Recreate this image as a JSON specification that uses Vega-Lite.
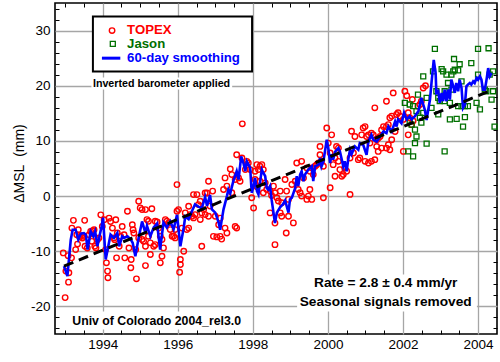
{
"$schema": "https://vega.github.io/schema/vega-lite/v6.json",
"width": 442, "height": 331,
"autosize": {"type": "none"},
"padding": {"left": 55, "top": 3, "right": 3, "bottom": 28},
"background": "white",
"config": {"view": {"stroke": "#000000", "strokeWidth": 1.6}, "font": "Liberation Sans"},
"datasets": {
"topex": [
{"t":1992.95,"v":-10.3},{"t":1993.08,"v":-10.8},{"t":1993.17,"v":-11.2},{"t":1993.02,"v":-13.6},{"t":1993.1,"v":-13.9},{"t":1993.09,"v":-15.6},{"t":1993.0,"v":-18.4},{"t":1993.18,"v":-5.8},{"t":1993.22,"v":-4.4},{"t":1993.31,"v":-7.0},{"t":1993.35,"v":-6.1},{"t":1993.28,"v":-9.7},{"t":1993.33,"v":-8.7},{"t":1993.39,"v":-7.4},{"t":1993.44,"v":-7.2},{"t":1993.46,"v":-7.6},{"t":1993.5,"v":-7.3},{"t":1993.52,"v":-4.4},{"t":1993.53,"v":-9.1},{"t":1993.59,"v":-9.4},{"t":1993.64,"v":-7.0},{"t":1993.68,"v":-6.4},{"t":1993.71,"v":-8.2},{"t":1993.73,"v":-6.3},{"t":1993.77,"v":-6.1},{"t":1993.79,"v":-9.1},{"t":1993.82,"v":-9.4},{"t":1993.86,"v":-7.9},{"t":1993.9,"v":-7.6},{"t":1993.95,"v":-3.4},{"t":1993.99,"v":-5.5},{"t":1994.04,"v":-4.3},{"t":1994.08,"v":-9.7},{"t":1994.1,"v":-12.1},{"t":1994.13,"v":-13.6},{"t":1994.14,"v":-14.8},{"t":1994.17,"v":-4.0},{"t":1994.21,"v":-4.6},{"t":1994.26,"v":-5.8},{"t":1994.3,"v":-7.6},{"t":1994.35,"v":-4.3},{"t":1994.32,"v":-7.9},{"t":1994.39,"v":-6.7},{"t":1994.37,"v":-11.2},{"t":1994.44,"v":-9.1},{"t":1994.48,"v":-7.3},{"t":1994.52,"v":-5.5},{"t":1994.57,"v":-7.0},{"t":1994.59,"v":-11.2},{"t":1994.66,"v":-2.75},{"t":1994.7,"v":-9.4},{"t":1994.75,"v":-13.0},{"t":1994.76,"v":-11.5},{"t":1994.79,"v":-5.2},{"t":1994.81,"v":-6.1},{"t":1994.83,"v":-6.7},{"t":1994.88,"v":-9.7},{"t":1994.9,"v":-15.0},
{"t":1994.96,"v":-0.94},{"t":1995.0,"v":-2.14},{"t":1995.05,"v":-2.45},{"t":1995.14,"v":-2.45},{"t":1995.18,"v":-4.26},{"t":1995.22,"v":-4.56},{"t":1995.31,"v":-2.3},{"t":1994.96,"v":-7.58},{"t":1995.05,"v":-7.88},{"t":1995.09,"v":-8.2},{"t":1995.14,"v":-9.09},{"t":1995.14,"v":-12.6},{"t":1995.22,"v":-7.28},{"t":1995.27,"v":-8.48},{"t":1995.27,"v":-10.6},{"t":1995.36,"v":-9.09},{"t":1995.4,"v":-8.8},{"t":1995.4,"v":-4.56},{"t":1995.45,"v":-4.7},{"t":1995.49,"v":-5.8},{"t":1995.535,"v":-7.28},{"t":1995.58,"v":-7.88},{"t":1995.58,"v":-10.9},{"t":1995.535,"v":-12.1},{"t":1995.62,"v":-9.39},{"t":1995.67,"v":-4.26},{"t":1995.71,"v":-4.56},{"t":1995.76,"v":-4.86},{"t":1995.8,"v":-6.07},{"t":1995.85,"v":-7.28},{"t":1995.89,"v":-7.28},{"t":1995.93,"v":-6.07},{"t":1995.98,"v":-2.75},{"t":1995.93,"v":-7.58},{"t":1995.98,"v":2.08},{"t":1996.02,"v":-2.45},{"t":1996.07,"v":-11.5},{"t":1996.07,"v":-12.4},{"t":1996.05,"v":-13.8},{"t":1996.16,"v":-10.0},{"t":1996.11,"v":-5.8},{"t":1996.2,"v":-3.05},{"t":1996.24,"v":-6.07},{"t":1996.29,"v":-5.8},{"t":1996.29,"v":-1.84},{"t":1996.33,"v":-3.35},{"t":1996.38,"v":-3.65},{"t":1996.42,"v":-3.96},{"t":1996.46,"v":-3.35},{"t":1996.42,"v":0.27},{"t":1996.51,"v":0.27},{"t":1996.55,"v":-1.54},{"t":1996.6,"v":-0.94},{"t":1996.6,"v":-4.26},{"t":1996.64,"v":-3.05},{"t":1996.64,"v":-9.09},{"t":1996.69,"v":-2.45},{"t":1996.73,"v":-3.35},{"t":1996.73,"v":0.57},{"t":1996.78,"v":0.57},{"t":1996.82,"v":-3.65},{"t":1996.82,"v":2.69},
{"t":1996.93,"v":0.9},{"t":1996.86,"v":-1.8},{"t":1997.0,"v":-3.65},{"t":1997.13,"v":-4.0},{"t":1997.09,"v":-5.2},{"t":1996.95,"v":-7.3},{"t":1997.04,"v":-7.4},{"t":1997.13,"v":-7.3},{"t":1997.17,"v":-7.8},{"t":1997.26,"v":-5.8},{"t":1997.31,"v":-6.7},{"t":1997.22,"v":1.2},{"t":1997.26,"v":3.3},{"t":1997.31,"v":1.8},{"t":1997.4,"v":4.9},{"t":1997.44,"v":3.9},{"t":1997.44,"v":0.6},{"t":1997.53,"v":3.0},{"t":1997.57,"v":7.5},{"t":1997.62,"v":3.3},{"t":1997.66,"v":2.7},{"t":1997.72,"v":13.1},{"t":1997.71,"v":6.9},{"t":1997.84,"v":6.3},{"t":1997.88,"v":6.0},{"t":1997.8,"v":4.8},{"t":1997.93,"v":4.8},{"t":1998.02,"v":2.4},{"t":1997.97,"v":-0.3},{"t":1998.06,"v":4.5},{"t":1998.11,"v":5.7},{"t":1998.15,"v":4.8},{"t":1998.19,"v":5.4},{"t":1998.24,"v":5.7},{"t":1998.28,"v":4.8},{"t":1998.06,"v":3.0},{"t":1998.11,"v":1.7},{"t":1998.19,"v":2.7},{"t":1998.28,"v":0.6},{"t":1998.33,"v":2.4},{"t":1998.37,"v":1.2},{"t":1998.46,"v":0.9},{"t":1998.5,"v":0.1},{"t":1998.55,"v":1.8},{"t":1998.59,"v":0.6},{"t":1998.64,"v":-0.3},{"t":1998.73,"v":0.9},{"t":1998.68,"v":-0.9},{"t":1998.73,"v":-3.05},{"t":1998.77,"v":-1.2},{"t":1998.77,"v":-3.65},{"t":1998.46,"v":-3.05},{"t":1998.59,"v":-4.9},{"t":1998.02,"v":-2.15},{"t":1997.57,"v":-5.8},{"t":1997.53,"v":-5.5},{"t":1998.59,"v":-8.8},
{"t":1998.86,"v":3.0},{"t":1998.9,"v":0.9},{"t":1998.95,"v":-0.6},{"t":1998.95,"v":-3.65},{"t":1999.08,"v":-4.86},{"t":1998.89,"v":-6.7},{"t":1999.04,"v":2.1},{"t":1999.13,"v":2.7},{"t":1999.17,"v":6.0},{"t":1999.3,"v":6.3},{"t":1999.21,"v":1.2},{"t":1999.26,"v":0.6},{"t":1999.3,"v":0.0},{"t":1999.35,"v":3.3},{"t":1999.44,"v":-0.6},{"t":1999.48,"v":0.0},{"t":1999.52,"v":1.2},{"t":1999.57,"v":-0.6},{"t":1999.44,"v":5.1},{"t":1999.52,"v":4.5},{"t":1999.57,"v":5.1},{"t":1999.61,"v":3.9},{"t":1999.66,"v":5.4},{"t":1999.7,"v":5.7},{"t":1999.75,"v":6.0},{"t":1999.79,"v":7.5},{"t":1999.83,"v":6.3},{"t":1999.88,"v":5.4},{"t":1999.79,"v":9.0},{"t":1999.88,"v":-0.3},{"t":1999.97,"v":12.35},{"t":2000.01,"v":9.6},{"t":2000.06,"v":7.8},{"t":2000.1,"v":11.1},{"t":2000.14,"v":5.7},{"t":2000.19,"v":6.9},{"t":2000.23,"v":9.0},{"t":2000.28,"v":8.7},{"t":2000.28,"v":6.3},{"t":2000.32,"v":4.8},{"t":2000.41,"v":3.9},{"t":2000.45,"v":5.1},{"t":2000.5,"v":4.5},{"t":2000.59,"v":6.9},{"t":2000.63,"v":11.75},{"t":2000.68,"v":7.8},{"t":2000.72,"v":10.8},{"t":2000.59,"v":0.3},{"t":2000.06,"v":1.5},{"t":2000.19,"v":3.6},{"t":2000.37,"v":3.6},{"t":2000.81,"v":6.6},
{"t":2000.9,"v":11.1},{"t":2000.94,"v":12.35},{"t":2000.99,"v":12.6},{"t":2001.03,"v":10.8},{"t":2001.08,"v":11.1},{"t":2001.12,"v":9.6},{"t":2001.16,"v":11.4},{"t":2001.21,"v":11.1},{"t":2001.25,"v":16.0},{"t":2001.3,"v":10.2},{"t":2001.34,"v":10.5},{"t":2001.39,"v":10.8},{"t":2001.43,"v":12.0},{"t":2001.48,"v":12.6},{"t":2001.56,"v":12.6},{"t":2001.61,"v":12.95},{"t":2001.56,"v":17.2},{"t":2001.65,"v":14.2},{"t":2001.7,"v":14.5},{"t":2001.74,"v":18.7},{"t":2001.83,"v":14.8},{"t":2001.87,"v":15.1},{"t":2001.79,"v":11.7},{"t":2001.7,"v":10.2},{"t":2001.56,"v":8.7},{"t":2001.43,"v":8.7},{"t":2001.34,"v":8.1},{"t":2001.25,"v":6.6},{"t":2001.16,"v":6.3},{"t":2001.08,"v":6.0},{"t":2000.99,"v":6.3},{"t":2000.85,"v":6.9},{"t":2001.3,"v":9.0},{"t":2001.65,"v":8.4},{"t":2001.61,"v":9.3},{"t":2001.92,"v":14.5},{"t":2002.01,"v":13.9},{"t":2002.05,"v":19.0},{"t":2002.14,"v":15.1},{"t":2002.18,"v":14.2},{"t":2002.23,"v":12.95},{"t":2002.27,"v":13.6},{"t":2002.4,"v":16.3},{"t":2002.45,"v":16.6},{"t":2002.49,"v":17.2},{"t":2002.54,"v":19.6},{"t":2002.01,"v":8.1},{"t":2002.14,"v":11.1},{"t":2002.1,"v":18.2},{"t":2002.25,"v":17.5},{"t":2002.6,"v":20.0}
],
"jason": [
{"t":2002.05,"v":16.9},{"t":2002.14,"v":8.1},{"t":2002.18,"v":16.6},{"t":2002.18,"v":13.6},{"t":2002.23,"v":12.95},{"t":2002.27,"v":16.3},{"t":2002.27,"v":7.2},{"t":2002.32,"v":12.05},{"t":2002.32,"v":9.6},{"t":2002.36,"v":15.4},{"t":2002.36,"v":10.8},{"t":2002.4,"v":18.4},{"t":2002.45,"v":14.2},{"t":2002.49,"v":13.3},{"t":2002.54,"v":21.7},{"t":2002.54,"v":15.1},{"t":2002.63,"v":17.8},{"t":2002.63,"v":9.5},{"t":2002.76,"v":16.0},{"t":2002.8,"v":22.6},{"t":2002.85,"v":26.7},{"t":2002.89,"v":19.0},{"t":2002.94,"v":17.8},{"t":2002.94,"v":14.8},{"t":2002.98,"v":17.2},{"t":2003.03,"v":23.0},{"t":2003.07,"v":22.6},{"t":2003.11,"v":19.0},{"t":2003.11,"v":17.2},{"t":2003.11,"v":8.1},{"t":2003.16,"v":22.0},{"t":2003.2,"v":20.5},{"t":2003.25,"v":16.9},{"t":2003.25,"v":13.9},{"t":2003.29,"v":22.0},{"t":2003.29,"v":19.3},{"t":2003.34,"v":22.6},{"t":2003.36,"v":24.85},{"t":2003.38,"v":22.9},{"t":2003.43,"v":14.0},{"t":2003.47,"v":22.8},{"t":2003.47,"v":16.3},{"t":2003.51,"v":23.9},{"t":2003.56,"v":20.8},{"t":2003.56,"v":16.3},{"t":2003.6,"v":12.6},{"t":2003.65,"v":16.3},{"t":2003.65,"v":14.3},{"t":2003.73,"v":16.3},{"t":2003.82,"v":24.1},{"t":2003.96,"v":16.9},{"t":2004.0,"v":26.7},{"t":2004.0,"v":22.0},{"t":2004.05,"v":15.7},{"t":2004.18,"v":19.3},{"t":2004.22,"v":19.0},{"t":2004.28,"v":26.8},{"t":2004.31,"v":22.0},{"t":2004.36,"v":17.5},{"t":2004.4,"v":22.6},{"t":2004.4,"v":19.0},{"t":2004.44,"v":12.6}
],
"smooth": [
{"t":1992.97,"v":-12.7},{"t":1993.06,"v":-14.5},{"t":1993.15,"v":-7.9},{"t":1993.2,"v":-6.1},{"t":1993.28,"v":-6.1},{"t":1993.35,"v":-7.9},{"t":1993.42,"v":-6.8},{"t":1993.5,"v":-6.7},{"t":1993.55,"v":-7.0},{"t":1993.6,"v":-9.7},{"t":1993.68,"v":-6.4},{"t":1993.75,"v":-7.3},{"t":1993.8,"v":-6.4},{"t":1993.86,"v":-9.1},{"t":1993.97,"v":-5.5},{"t":1994.01,"v":-3.9},{"t":1994.08,"v":-11.5},{"t":1994.21,"v":-7.0},{"t":1994.3,"v":-7.6},{"t":1994.39,"v":-6.7},{"t":1994.44,"v":-9.1},{"t":1994.52,"v":-7.3},{"t":1994.57,"v":-7.6},{"t":1994.66,"v":-7.3},{"t":1994.75,"v":-7.9},{"t":1994.8,"v":-8.5},{"t":1994.87,"v":-10.9},{"t":1994.96,"v":-7.5},{"t":1995.05,"v":-4.6},{"t":1995.14,"v":-6.7},{"t":1995.18,"v":-5.4},{"t":1995.27,"v":-7.3},{"t":1995.36,"v":-5.7},{"t":1995.45,"v":-5.0},{"t":1995.53,"v":-9.7},{"t":1995.62,"v":-4.8},{"t":1995.71,"v":-5.7},{"t":1995.8,"v":-4.6},{"t":1995.89,"v":-6.0},{"t":1995.98,"v":-3.4},{"t":1996.07,"v":-9.1},{"t":1996.16,"v":-5.7},{"t":1996.2,"v":-3.7},{"t":1996.29,"v":-4.2},{"t":1996.38,"v":-2.7},{"t":1996.46,"v":-1.5},{"t":1996.55,"v":-1.9},{"t":1996.64,"v":-2.2},{"t":1996.73,"v":-0.2},{"t":1996.78,"v":-1.8},{"t":1996.86,"v":0.2},{"t":1996.91,"v":-2.4},{"t":1997.0,"v":-3.0},{"t":1997.09,"v":-4.8},{"t":1997.13,"v":-6.1},{"t":1997.17,"v":-4.4},{"t":1997.22,"v":-2.4},{"t":1997.31,"v":0.0},{"t":1997.35,"v":1.2},{"t":1997.4,"v":0.5},{"t":1997.48,"v":2.7},{"t":1997.57,"v":4.5},{"t":1997.62,"v":3.0},{"t":1997.69,"v":7.2},{"t":1997.75,"v":6.0},{"t":1997.8,"v":4.5},{"t":1997.84,"v":6.3},{"t":1997.93,"v":5.1},{"t":1997.97,"v":0.6},{"t":1998.02,"v":1.8},{"t":1998.06,"v":3.3},{"t":1998.11,"v":0.9},{"t":1998.15,"v":0.3},{"t":1998.19,"v":2.4},{"t":1998.24,"v":4.8},{"t":1998.28,"v":4.2},{"t":1998.33,"v":3.6},{"t":1998.37,"v":1.5},{"t":1998.41,"v":1.2},{"t":1998.46,"v":1.8},{"t":1998.5,"v":-0.6},{"t":1998.59,"v":-4.9},{"t":1998.64,"v":-3.0},{"t":1998.73,"v":-2.0},{"t":1998.8,"v":-1.5},{"t":1998.86,"v":-0.8},{"t":1998.95,"v":-3.0},{"t":1998.99,"v":-0.6},{"t":1999.04,"v":-0.3},{"t":1999.13,"v":1.5},{"t":1999.17,"v":3.6},{"t":1999.21,"v":1.8},{"t":1999.26,"v":3.9},{"t":1999.3,"v":4.5},{"t":1999.35,"v":2.7},{"t":1999.39,"v":3.9},{"t":1999.48,"v":4.8},{"t":1999.57,"v":5.4},{"t":1999.61,"v":2.7},{"t":1999.66,"v":5.4},{"t":1999.75,"v":5.7},{"t":1999.79,"v":6.9},{"t":1999.83,"v":5.4},{"t":1999.88,"v":6.3},{"t":1999.97,"v":10.2},{"t":2000.01,"v":8.7},{"t":2000.06,"v":6.0},{"t":2000.1,"v":7.6},{"t":2000.14,"v":6.6},{"t":2000.19,"v":8.0},{"t":2000.28,"v":8.7},{"t":2000.32,"v":8.1},{"t":2000.41,"v":5.4},{"t":2000.45,"v":6.3},{"t":2000.5,"v":4.5},{"t":2000.54,"v":6.6},{"t":2000.59,"v":8.4},{"t":2000.63,"v":7.6},{"t":2000.72,"v":9.0},{"t":2000.81,"v":8.4},{"t":2000.85,"v":9.6},{"t":2000.94,"v":9.3},{"t":2001.03,"v":7.5},{"t":2001.08,"v":9.9},{"t":2001.16,"v":11.1},{"t":2001.21,"v":10.2},{"t":2001.3,"v":9.9},{"t":2001.39,"v":10.8},{"t":2001.48,"v":11.7},{"t":2001.56,"v":11.4},{"t":2001.61,"v":12.6},{"t":2001.7,"v":11.7},{"t":2001.79,"v":13.5},{"t":2001.83,"v":12.6},{"t":2001.87,"v":13.9},{"t":2001.96,"v":13.2},{"t":2002.03,"v":15.1},{"t":2002.1,"v":13.9},{"t":2002.18,"v":14.5},{"t":2002.23,"v":13.9},{"t":2002.32,"v":14.5},{"t":2002.41,"v":15.4},{"t":2002.49,"v":17.8},{"t":2002.54,"v":16.6},{"t":2002.58,"v":15.7},{"t":2002.63,"v":13.8},{"t":2002.67,"v":15.5},{"t":2002.72,"v":17.5},{"t":2002.76,"v":20.5},{"t":2002.82,"v":24.7},{"t":2002.87,"v":22.3},{"t":2002.89,"v":18.7},{"t":2002.94,"v":19.0},{"t":2002.98,"v":16.9},{"t":2003.03,"v":18.7},{"t":2003.07,"v":17.2},{"t":2003.11,"v":19.3},{"t":2003.16,"v":17.2},{"t":2003.2,"v":19.3},{"t":2003.25,"v":17.5},{"t":2003.29,"v":21.1},{"t":2003.34,"v":19.9},{"t":2003.38,"v":18.7},{"t":2003.42,"v":20.5},{"t":2003.47,"v":19.0},{"t":2003.51,"v":21.1},{"t":2003.56,"v":19.6},{"t":2003.6,"v":16.0},{"t":2003.65,"v":16.6},{"t":2003.69,"v":19.9},{"t":2003.73,"v":20.2},{"t":2003.78,"v":20.5},{"t":2003.82,"v":20.2},{"t":2003.87,"v":20.8},{"t":2003.91,"v":20.5},{"t":2003.96,"v":21.4},{"t":2004.0,"v":21.1},{"t":2004.05,"v":21.7},{"t":2004.09,"v":21.1},{"t":2004.13,"v":19.3},{"t":2004.18,"v":19.3},{"t":2004.22,"v":20.8},{"t":2004.27,"v":23.2},{"t":2004.31,"v":21.7},{"t":2004.36,"v":22.3}
],
"trend": [{"t":1992.97,"v":-12.7},{"t":2004.4,"v":19.3}]
},
"resolve": {"axis": {"x": "independent", "y": "independent"}},
"layer": [
{"data": {"name": "topex"},
 "mark": {"type": "point", "shape": "circle", "filled": false, "color": "#ff0000", "strokeWidth": 1.4, "size": 30, "opacity": 1},
 "encoding": {
  "x": {"field": "t", "type": "quantitative", "scale": {"domain": [1992.73, 2004.505], "nice": false, "zero": false},
        "axis": {"orient": "bottom", "values": [1994,1996,1998,2000,2002,2004], "format": "d", "title": null, "domain": false, "ticks": false, "tickSize": 0, "grid": true, "gridColor": "#a6a6a6", "gridWidth": 1.3, "labelFont": "Liberation Sans", "labelFontSize": 13.5, "labelColor": "#000000", "labelPadding": 3, "labelFlush": false}},
  "y": {"field": "v", "type": "quantitative", "scale": {"domain": [-25, 35], "nice": false, "zero": false},
        "axis": {"orient": "left", "values": [-20,-10,0,10,20,30], "labelExpr": "datum.value < 0 ? '-' + abs(datum.value) : '' + datum.value", "domain": false, "ticks": false, "tickSize": 0, "grid": true, "gridColor": "#a6a6a6", "gridWidth": 1.3, "labelFont": "Liberation Sans", "labelFontSize": 13.5, "labelColor": "#000000", "labelPadding": 5, "labelFlush": false,
                 "title": "ΔMSL\u00a0\u00a0(mm)", "titleFont": "Liberation Sans", "titleFontSize": 14, "titleFontWeight": "normal", "titleColor": "#000000", "titleX": -36, "titleY": 160, "titleBaseline": "middle", "titleAlign": "center"}}
 }},
{"data": {"name": "jason"},
 "mark": {"type": "point", "shape": "square", "filled": false, "color": "#007000", "strokeWidth": 1.3, "size": 25, "opacity": 1},
 "encoding": {
  "x": {"field": "t", "type": "quantitative", "scale": {"domain": [1992.73, 2004.505], "nice": false, "zero": false},
        "axis": {"orient": "bottom", "values": [1993,1993.5,1994.5,1995,1995.5,1996.5,1997,1997.5,1998.5,1999,1999.5,2000.5,2001,2001.5,2002.5,2003,2003.5], "labels": false, "title": null, "domain": false, "grid": false, "ticks": true, "tickSize": 4, "tickColor": "#000000", "tickWidth": 1, "offset": -4}},
  "y": {"field": "v", "type": "quantitative", "scale": {"domain": [-25, 35], "nice": false, "zero": false},
        "axis": {"orient": "left", "values": [-24,-22,-18,-16,-14,-12,-8,-6,-4,-2,2,4,6,8,12,14,16,18,22,24,26,28,32,34], "labels": false, "title": null, "domain": false, "grid": false, "ticks": true, "tickSize": 4, "tickColor": "#000000", "tickWidth": 1, "offset": -4}}
 }},
{"data": {"name": "smooth"},
 "mark": {"type": "line", "color": "#0000ff", "strokeWidth": 2.6},
 "encoding": {
  "x": {"field": "t", "type": "quantitative", "scale": {"domain": [1992.73, 2004.505], "nice": false, "zero": false},
        "axis": {"orient": "top", "values": [1993,1993.5,1994.5,1995,1995.5,1996.5,1997,1997.5,1998.5,1999,1999.5,2000.5,2001,2001.5,2002.5,2003,2003.5], "labels": false, "title": null, "domain": false, "grid": false, "ticks": true, "tickSize": 4, "tickColor": "#000000", "tickWidth": 1, "offset": -4}},
  "y": {"field": "v", "type": "quantitative", "scale": {"domain": [-25, 35], "nice": false, "zero": false},
        "axis": {"orient": "right", "values": [-24,-22,-18,-16,-14,-12,-8,-6,-4,-2,2,4,6,8,12,14,16,18,22,24,26,28,32,34], "labels": false, "title": null, "domain": false, "grid": false, "ticks": true, "tickSize": 4, "tickColor": "#000000", "tickWidth": 1, "offset": -4}}
 }},
{"data": {"name": "trend"},
 "mark": {"type": "line", "color": "#000000", "strokeWidth": 3, "strokeDash": [10, 6]},
 "encoding": {"x": {"field": "t", "type": "quantitative", "axis": null}, "y": {"field": "v", "type": "quantitative", "axis": null}}},
{"data": {"values": [{}]}, "mark": {"type": "rect", "fill": "#ffffff"},
 "encoding": {"x": {"datum": 1993.7, "axis": null}, "x2": {"datum": 1997.45}, "y": {"datum": 21.5, "axis": null}, "y2": {"datum": 19.3}}},
{"data": {"values": [{}]}, "mark": {"type": "rect", "fill": "#ffffff"},
 "encoding": {"x": {"datum": 1993.09, "axis": null}, "x2": {"datum": 1997.74}, "y": {"datum": -20.9, "axis": null}, "y2": {"datum": -24.2}}},
{"data": {"values": [{}]}, "mark": {"type": "rect", "fill": "#ffffff"},
 "encoding": {"x": {"datum": 1999.18, "axis": null}, "x2": {"datum": 2003.97}, "y": {"datum": -14.2, "axis": null}, "y2": {"datum": -20.9}}},
{"data": {"values": [{}]}, "mark": {"type": "rect", "fill": "#ffffff", "stroke": "#000000", "strokeWidth": 2},
 "encoding": {"x": {"datum": 1993.74, "axis": null}, "x2": {"datum": 1997.98}, "y": {"datum": 32.57, "axis": null}, "y2": {"datum": 22.6}}},
{"data": {"values": [{}]}, "mark": {"type": "point", "shape": "circle", "filled": false, "color": "#ff0000", "strokeWidth": 1.4, "size": 30, "opacity": 1},
 "encoding": {"x": {"datum": 1994.25, "axis": null}, "y": {"datum": 30.0, "axis": null}}},
{"data": {"values": [{}]}, "mark": {"type": "point", "shape": "square", "filled": false, "color": "#007000", "strokeWidth": 1.3, "size": 25, "opacity": 1},
 "encoding": {"x": {"datum": 1994.27, "axis": null}, "y": {"datum": 27.6, "axis": null}}},
{"data": {"values": [{}]}, "mark": {"type": "rule", "color": "#0000ff", "strokeWidth": 3},
 "encoding": {"x": {"datum": 1993.98, "axis": null}, "x2": {"datum": 1994.47}, "y": {"datum": 25.0, "axis": null}}},
{"data": {"values": [{}]}, "mark": {"type": "text", "text": "TOPEX", "align": "left", "baseline": "middle", "font": "Liberation Sans", "fontWeight": "bold", "fontSize": 13.2, "color": "#ff0000"},
 "encoding": {"x": {"datum": 1994.65, "axis": null}, "y": {"datum": 30.1, "axis": null}}},
{"data": {"values": [{}]}, "mark": {"type": "text", "text": "Jason", "align": "left", "baseline": "middle", "font": "Liberation Sans", "fontWeight": "bold", "fontSize": 13.2, "color": "#007000"},
 "encoding": {"x": {"datum": 1994.65, "axis": null}, "y": {"datum": 27.55, "axis": null}}},
{"data": {"values": [{}]}, "mark": {"type": "text", "text": "60-day smoothing", "align": "left", "baseline": "middle", "font": "Liberation Sans", "fontWeight": "bold", "fontSize": 13.2, "color": "#0000ff"},
 "encoding": {"x": {"datum": 1994.65, "axis": null}, "y": {"datum": 25.0, "axis": null}}},
{"data": {"values": [{}]}, "mark": {"type": "text", "text": "Inverted barometer applied", "align": "left", "baseline": "middle", "font": "Liberation Sans", "fontWeight": "bold", "fontSize": 10.7, "color": "#000000"},
 "encoding": {"x": {"datum": 1993.74, "axis": null}, "y": {"datum": 20.4, "axis": null}}},
{"data": {"values": [{}]}, "mark": {"type": "text", "text": "Univ of Colorado 2004_rel3.0", "align": "left", "baseline": "middle", "font": "Liberation Sans", "fontWeight": "bold", "fontSize": 12.3, "color": "#000000"},
 "encoding": {"x": {"datum": 1993.19, "axis": null}, "y": {"datum": -22.7, "axis": null}}},
{"data": {"values": [{}]}, "mark": {"type": "text", "text": "Rate = 2.8 ± 0.4 mm/yr", "align": "center", "baseline": "middle", "font": "Liberation Sans", "fontWeight": "bold", "fontSize": 13.7, "color": "#000000"},
 "encoding": {"x": {"datum": 2001.54, "axis": null}, "y": {"datum": -15.7, "axis": null}}},
{"data": {"values": [{}]}, "mark": {"type": "text", "text": "Seasonal signals removed", "align": "center", "baseline": "middle", "font": "Liberation Sans", "fontWeight": "bold", "fontSize": 13.7, "color": "#000000"},
 "encoding": {"x": {"datum": 2001.54, "axis": null}, "y": {"datum": -19.2, "axis": null}}}
]
}
